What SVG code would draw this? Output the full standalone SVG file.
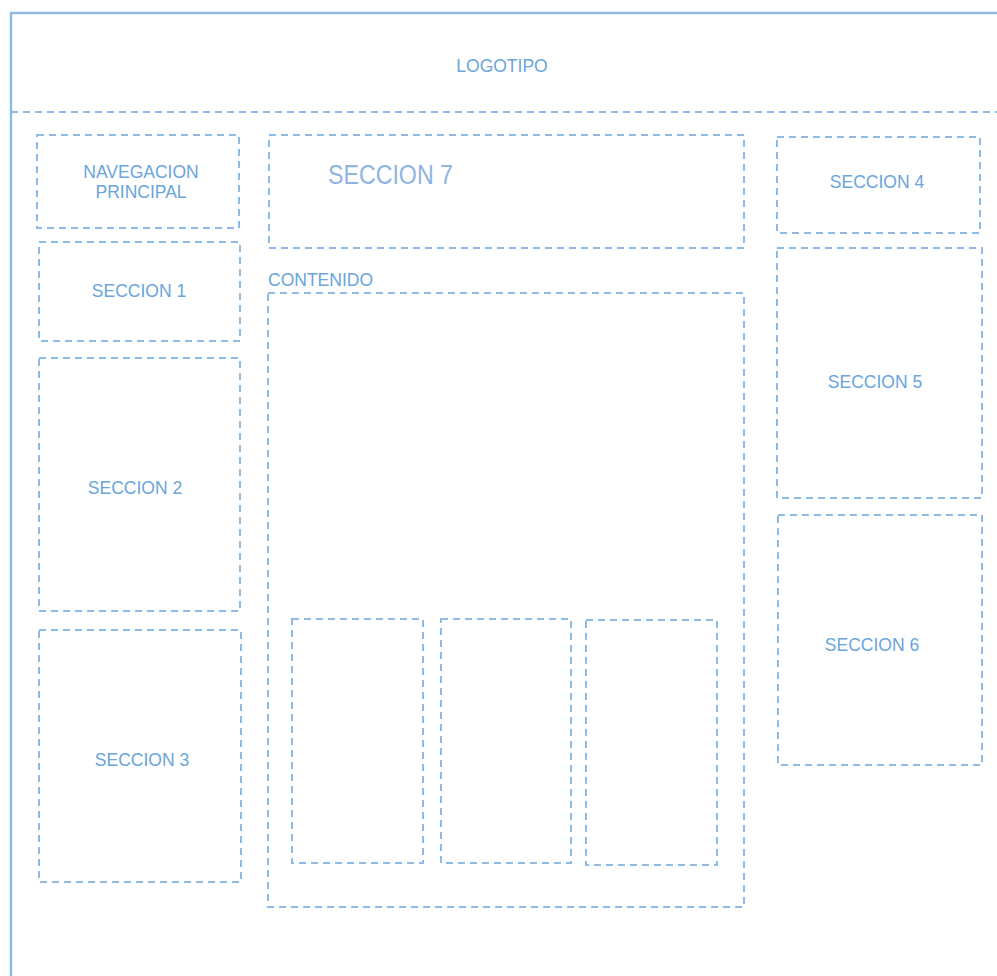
<svg xmlns="http://www.w3.org/2000/svg" width="997" height="976" viewBox="0 0 997 976">
<style>
.box{fill:none;stroke:#8dbbe6;stroke-width:2;stroke-dasharray:7 5}
.lbl{font-family:"Liberation Sans",Arial,sans-serif;font-size:17.5px;fill:#6aa5dc;text-anchor:middle}
</style>
<rect width="997" height="976" fill="#fff"/>
<g id="frame">
<path d="M11,976 V13 H997" fill="none" stroke="#8dbbe6" stroke-width="2.5"/>
<line x1="11" y1="112" x2="997" y2="112" class="box"/>
</g>
<g id="logo"><text class="lbl" x="502" y="72">LOGOTIPO</text></g>
<g id="nav"><rect class="box" x="37" y="135" width="202" height="93"/><text class="lbl" x="141" y="178">NAVEGACION</text><text class="lbl" x="141" y="198">PRINCIPAL</text></g>
<g id="s1"><rect class="box" x="39" y="242" width="201" height="99"/><text class="lbl" x="139" y="297">SECCION 1</text></g>
<g id="s2"><rect class="box" x="39" y="358" width="201" height="253"/><text class="lbl" x="135" y="494">SECCION 2</text></g>
<g id="s3"><rect class="box" x="39" y="630" width="202" height="252"/><text class="lbl" x="142" y="766">SECCION 3</text></g>
<g id="s7"><rect class="box" x="269" y="135" width="475" height="113"/><text x="328" y="184" font-family="'Liberation Sans',Arial,sans-serif" font-size="27" fill="#8eb4e3" textLength="125" lengthAdjust="spacingAndGlyphs">SECCION 7</text></g>
<g id="contenido"><text x="268" y="286" font-family="'Liberation Sans',Arial,sans-serif" font-size="17.5" fill="#6aa5dc">CONTENIDO</text><rect class="box" x="268" y="293" width="476" height="614"/></g>
<g id="c1"><rect class="box" x="292" y="619" width="131" height="244"/></g>
<g id="c2"><rect class="box" x="441" y="619" width="130" height="244"/></g>
<g id="c3"><rect class="box" x="586" y="620" width="131" height="245"/></g>
<g id="s4"><rect class="box" x="777" y="137" width="203" height="96"/><text class="lbl" x="877" y="188">SECCION 4</text></g>
<g id="s5"><rect class="box" x="777" y="248" width="205" height="250"/><text class="lbl" x="875" y="388">SECCION 5</text></g>
<g id="s6"><rect class="box" x="778" y="515" width="204" height="250"/><text class="lbl" x="872" y="651">SECCION 6</text></g>
<g id="connectors"></g>
</svg>
